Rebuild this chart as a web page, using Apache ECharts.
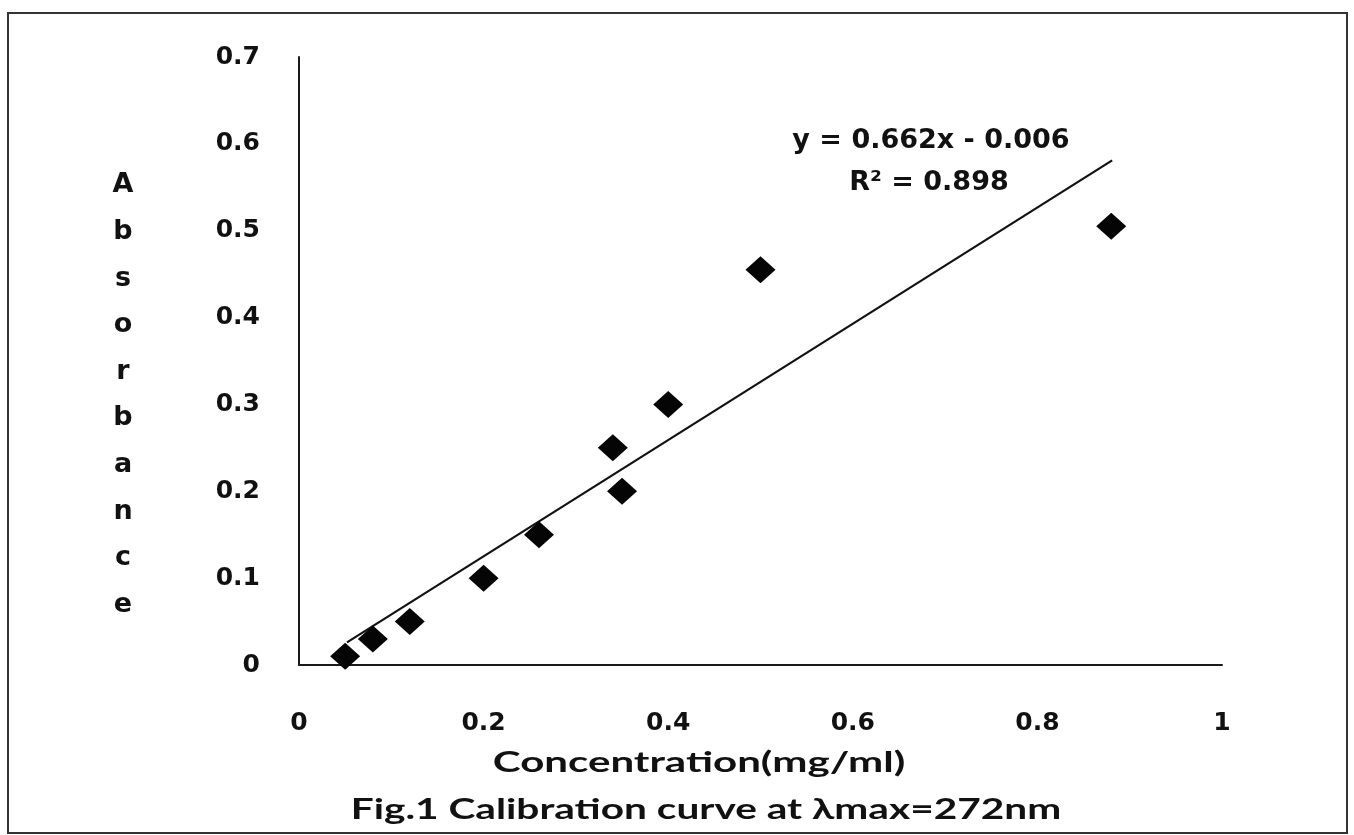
<!DOCTYPE html>
<html>
<head>
<meta charset="utf-8">
<script src="https://cdn.jsdelivr.net/npm/echarts@6/dist/echarts.min.js"></script>
<style>
  html, body { margin: 0; padding: 0; background: #fff; }
  #main { width: 1354px; height: 835px; }
</style>
</head>
<body>
<div id="main"></div>
<script>
// concentration (mg/ml) and absorbance
const concentration = [0.05, 0.08, 0.12, 0.2, 0.26, 0.34, 0.35, 0.4, 0.5, 0.88];
const absorbance = [0.01, 0.03, 0.05, 0.10, 0.15, 0.25, 0.20, 0.30, 0.455, 0.505];
// linear trendline end points as drawn
const trendX = [0.052, 0.881];
const trendY = [0.026, 0.581];
const equationText = 'y = 0.662x - 0.006';
const r2Text = 'R² = 0.898';

const chart = echarts.init(document.getElementById('main'));

const points = concentration.map((c, i) => [c, absorbance[i]]);
const trend = trendX.map((x, i) => [x, trendY[i]]);

const tickFont = {
    color: '#111',
    fontFamily: 'DejaVu Sans',
    fontWeight: 'bold',
    fontSize: 25
};

chart.setOption({
    backgroundColor: '#fff',
    animation: false,
    grid: { left: 299, right: 132, top: 57, bottom: 170 },
    xAxis: {
        type: 'value',
        min: 0,
        max: 1,
        interval: 0.2,
        splitLine: { show: false },
        axisTick: { show: false },
        axisLine: { onZero: false, lineStyle: { color: '#1a1a1a', width: 2 } },
        axisLabel: Object.assign({ margin: 46 }, tickFont)
    },
    yAxis: {
        type: 'value',
        min: 0,
        max: 0.7,
        interval: 0.1,
        splitLine: { show: false },
        axisTick: { show: false },
        axisLine: { show: true, lineStyle: { color: '#1a1a1a', width: 2 } },
        axisLabel: Object.assign({ margin: 39 }, tickFont)
    },
    series: [
        {
            type: 'line',
            data: trend,
            symbol: 'none',
            lineStyle: { color: '#111', width: 2.2 },
            z: 2
        },
        {
            type: 'scatter',
            data: points,
            symbol: 'diamond',
            symbolSize: [30, 27],
            itemStyle: { color: '#050505', opacity: 1 },
            z: 3
        }
    ],
    graphic: [
        {
            type: 'rect',
            shape: { x: 8, y: 13, width: 1339, height: 820 },
            style: { fill: 'none', stroke: '#333', lineWidth: 2 },
            silent: true
        },
        {
            type: 'text',
            x: 123,
            y: 162,
            style: {
                text: 'A\nb\ns\no\nr\nb\na\nn\nc\ne',
                fill: '#111',
                font: 'bold 27px "DejaVu Sans"',
                lineHeight: 46.6,
                align: 'center'
            }
        },
        {
            type: 'text',
            x: 931,
            y: 141,
            style: {
                text: equationText,
                fill: '#111',
                font: 'bold 27px "DejaVu Sans"',
                align: 'center',
                verticalAlign: 'middle'
            }
        },
        {
            type: 'text',
            x: 929,
            y: 183,
            style: {
                text: r2Text,
                fill: '#111',
                font: 'bold 27px "DejaVu Sans"',
                align: 'center',
                verticalAlign: 'middle'
            }
        },
        {
            type: 'text',
            x: 699,
            y: 763,
            scaleX: 1.45,
            style: {
                text: 'Concentration(mg/ml)',
                fill: '#111',
                font: 'bold 29px Lato',
                align: 'center',
                verticalAlign: 'middle'
            }
        },
        {
            type: 'text',
            x: 706,
            y: 810,
            scaleX: 1.4,
            style: {
                text: 'Fig.1 Calibration curve at λmax=272nm',
                fill: '#111',
                font: 'bold 29px Lato',
                align: 'center',
                verticalAlign: 'middle'
            }
        }
    ]
});
</script>
</body>
</html>
